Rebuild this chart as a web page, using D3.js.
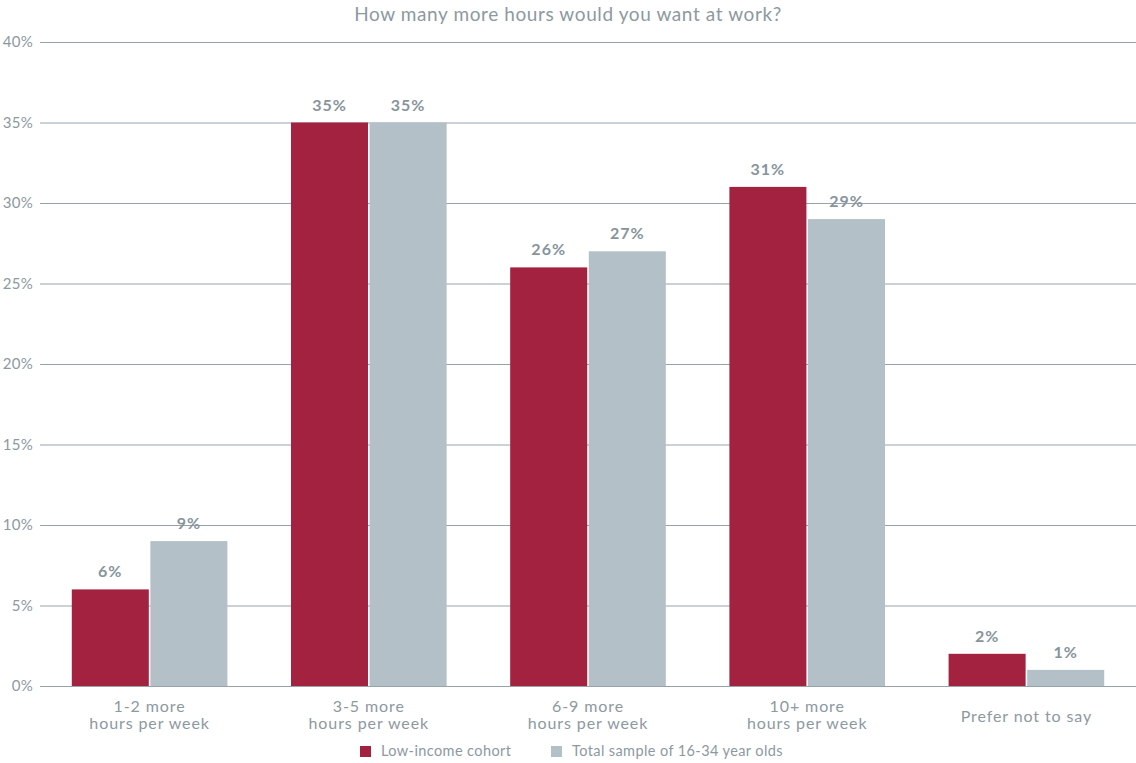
<!DOCTYPE html>
<html>
<head>
<meta charset="utf-8">
<script src="https://cdn.jsdelivr.net/npm/d3@7"></script>
<style>
    body { margin: 0; background: #fff; }
    text { font-family: Lato, "Open Sans", sans-serif; }
    .axis path { display: none; }
    .axis line { stroke: #97a3aa; stroke-width: 1.2; }
    .axis text { fill: #8d999f; font-size: 15px; letter-spacing: 0.3px; }
</style>
</head>
<body>
<div id="plot"></div>
<script>
// chart values
var categories = [["1-2 more", "hours per week"], ["3-5 more", "hours per week"], ["6-9 more", "hours per week"], ["10+ more", "hours per week"], ["Prefer not to say"]];
var lowIncome = [6, 35, 26, 31, 2];
var totalSample = [9, 35, 27, 29, 1];
var seriesNames = ["Low-income cohort", "Total sample of 16-34 year olds"];
var yTicks = [0, 5, 10, 15, 20, 25, 30, 35, 40];
var title = "How many more hours would you want at work?";

function plot_bars() {
    var width = 1136,
        height = 763,
        margin = {left: 40, top: 42, right: 0, bottom: 77},
        g_width = width - margin.left - margin.right,
        g_height = height - margin.top - margin.bottom;

    var colors = ["#a32240", "#b4c0c7"];

    var svg = d3.select("#plot")
        .append("svg")
        .attr("width", width)
        .attr("height", height);

    var idx = d3.range(categories.length);

    var xScale = d3.scaleBand()
        .domain(idx)
        .range([margin.left, margin.left + g_width])
        .paddingInner(0.29)
        .paddingOuter(0.145);

    var xInner = d3.scaleBand()
        .domain([0, 1])
        .range([0, xScale.bandwidth()])
        .paddingInner(0.02);

    var yScale = d3.scaleLinear()
        .domain([0, 40])
        .range([margin.top + g_height, margin.top]);

    // grid lines + y labels
    var yAxis = d3.axisLeft(yScale)
        .tickValues(yTicks)
        .tickSizeInner(-g_width)
        .tickSizeOuter(0)
        .tickPadding(6)
        .tickFormat(function(d){ return d + "%"; });

    svg.append("g")
        .attr("class", "axis")
        .attr("transform", `translate(${margin.left},0)`)
        .call(yAxis)
        .selectAll("text")
        .attr("x", -7);

    // title
    svg.append("text")
        .attr("x", width / 2)
        .attr("y", 21)
        .attr("text-anchor", "middle")
        .style("font-size", "19px")
        .style("letter-spacing", "0.6px")
        .style("fill", "#8d999f")
        .text(title);

    var series = [lowIncome, totalSample];

    series.forEach(function(vals, s){
        var g = svg.append("g");
        g.selectAll("rect")
            .data(vals)
            .enter().append("rect")
            .attr("x", function(d, i){ return xScale(i) + xInner(s); })
            .attr("y", function(d){ return yScale(d); })
            .attr("width", xInner.bandwidth())
            .attr("height", function(d){ return yScale(0) - yScale(d); })
            .attr("fill", colors[s]);

        g.selectAll("text")
            .data(vals)
            .enter().append("text")
            .attr("x", function(d, i){ return xScale(i) + xInner(s) + xInner.bandwidth() / 2; })
            .attr("y", function(d){ return yScale(d) - 12; })
            .attr("text-anchor", "middle")
            .style("font-size", "16px")
            .style("letter-spacing", "1px")
            .style("font-weight", "bold")
            .style("fill", "#87949b")
            .text(function(d){ return d + "%"; });
    });

    // category labels (single-line label sits centred on the two-line ones)
    var cat = svg.append("g");
    categories.forEach(function(lines, i){
        var cx = xScale(i) + xScale.bandwidth() / 2;
        var t = cat.append("text")
            .attr("x", cx)
            .attr("y", lines.length > 1 ? yScale(0) + 26 : yScale(0) + 36)
            .attr("text-anchor", "middle")
            .style("font-size", "16px")
            .style("letter-spacing", "0.9px")
            .style("fill", "#8d999f");
        lines.forEach(function(l, k){
            t.append("tspan")
                .attr("x", cx)
                .attr("dy", k === 0 ? 0 : 17)
                .text(l);
        });
    });

    // legend
    var legX = [360, 551];
    var leg = svg.append("g");
    seriesNames.forEach(function(name, s){
        leg.append("rect")
            .attr("x", legX[s])
            .attr("y", 746)
            .attr("width", 11)
            .attr("height", 11)
            .attr("fill", colors[s]);
        leg.append("text")
            .attr("x", legX[s] + 21)
            .attr("y", 756)
            .style("font-size", "14.5px")
            .style("letter-spacing", "0.4px")
            .style("fill", "#8d999f")
            .text(name);
    });
}

plot_bars();
</script>
</body>
</html>
